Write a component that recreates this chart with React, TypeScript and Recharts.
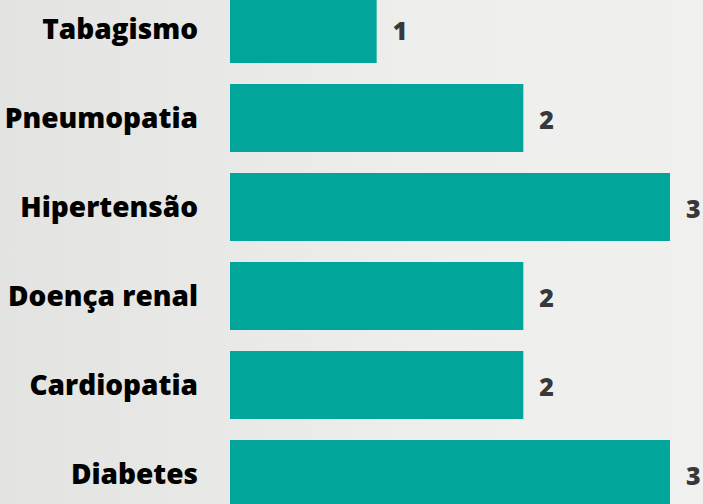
import React from "react";
import { BarChart, Bar, XAxis, YAxis, LabelList } from "recharts";

const categories = ["Tabagismo", "Pneumopatia", "Hipertensão", "Doença renal", "Cardiopatia", "Diabetes"];
const values = [1, 2, 3, 2, 2, 3];
const xDomain: [number, number] = [0, 3];

const data = categories.map((name, i) => ({ name, value: values[i] }));

const FONT = "'Open Sans', 'Noto Sans', sans-serif";

const CategoryTick = (props: any) => {
  const { y, payload } = props;
  return (
    <text x={198} y={y} dy={10.5} textAnchor="end" fill="#000" fontFamily={FONT} fontWeight={800} fontSize={28}>
      {payload.value}
    </text>
  );
};

const ValueLabel = (props: any) => {
  const { x, y, width, height, value } = props;
  return (
    <text x={x + width + 16} y={y + height / 2 + 11} textAnchor="start" fill="#383838" fontFamily={FONT} fontWeight={800} fontSize={25}>
      {value}
    </text>
  );
};

export default function App() {
  return (
    <div
      style={{
        position: "absolute",
        left: 0,
        top: 0,
        width: 703,
        height: 504,
        overflow: "hidden",
        background: "linear-gradient(90deg, #e3e3e1 0%, #e8e8e6 30%, #eeeeec 60%, #f0f0ee 100%)",
      }}
    >
      <div style={{ position: "absolute", left: 0, top: -16 }}>
        <BarChart
          width={703}
          height={534}
          data={data}
          layout="vertical"
          margin={{ top: 0, right: 33, left: 0, bottom: 0 }}
        >
          <XAxis type="number" domain={xDomain} hide />
          <YAxis
            type="category"
            dataKey="name"
            width={230}
            axisLine={false}
            tickLine={false}
            tick={<CategoryTick />}
            interval={0}
          />
          <Bar dataKey="value" fill="#01A59A" barSize={68} isAnimationActive={false}>
            <LabelList dataKey="value" content={<ValueLabel />} />
          </Bar>
        </BarChart>
      </div>
    </div>
  );
}
